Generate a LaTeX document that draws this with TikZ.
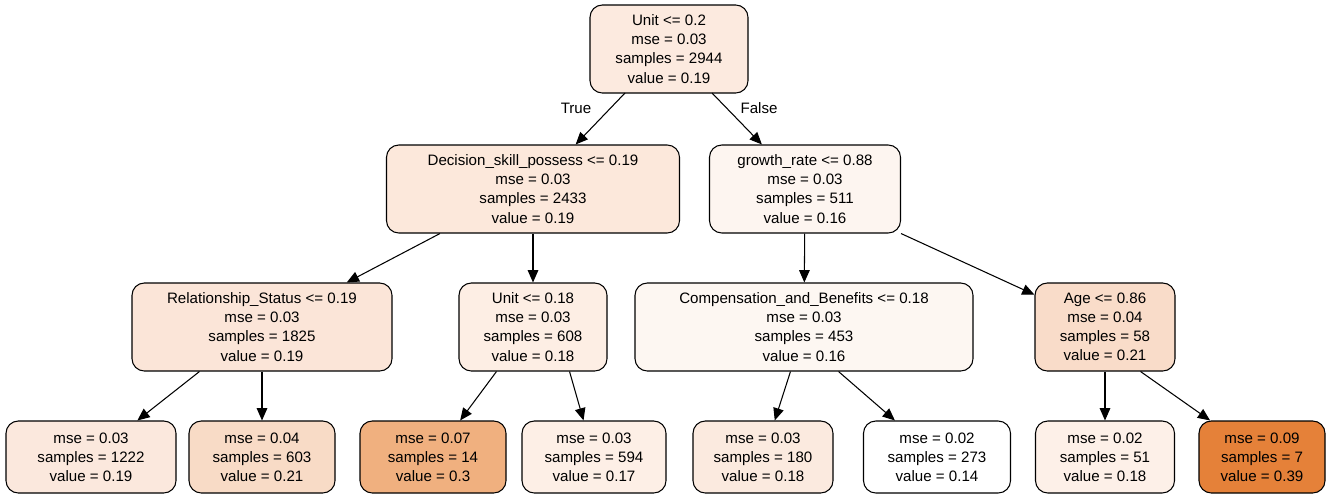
\documentclass[tikz,border=0pt]{standalone}
\usepackage{fontspec}
\setmainfont{Liberation Sans}
\usetikzlibrary{arrows.meta}
\begin{document}
\begin{tikzpicture}[x=0.02cm,y=-0.02cm,
  nd/.style={draw,rounded corners=7pt,align=center,inner sep=0pt,font=\fontsize{8.6}{10.9}\selectfont,line width=0.6pt},
  e/.style={-{Triangle[length=7pt,width=6pt]},line width=0.6pt},
  lb/.style={font=\fontsize{8.6}{10.9}\selectfont}]
\useasboundingbox (0,0) rectangle (1331,497);
\definecolor{c0}{HTML}{FCEADF}
\definecolor{c1}{HTML}{FCE8DB}
\definecolor{c2}{HTML}{FDF5F0}
\definecolor{c3}{HTML}{FBE5D8}
\definecolor{c4}{HTML}{FDEEE4}
\definecolor{c5}{HTML}{FDF7F2}
\definecolor{c6}{HTML}{F9DCC9}
\definecolor{l1}{HTML}{FBE8DD}
\definecolor{l2}{HTML}{F8DBC6}
\definecolor{l3}{HTML}{F0B07F}
\definecolor{l4}{HTML}{FDEFE6}
\definecolor{l5}{HTML}{FBEADF}
\definecolor{l6}{HTML}{FFFFFF}
\definecolor{l7}{HTML}{FDF0E8}
\definecolor{l8}{HTML}{E58139}
\node[nd,fill=c0,minimum width=158*0.02cm,minimum height=88*0.02cm] (r) at (669,49) {Unit <= 0.2\\mse = 0.03\\samples = 2944\\value = 0.19};
\node[nd,fill=c1,minimum width=293*0.02cm,minimum height=88*0.02cm] (d) at (533,189) {Decision\_skill\_possess <= 0.19\\mse = 0.03\\samples = 2433\\value = 0.19};
\node[nd,fill=c2,minimum width=191*0.02cm,minimum height=88*0.02cm] (g) at (805,189) {growth\_rate <= 0.88\\mse = 0.03\\samples = 511\\value = 0.16};
\node[nd,fill=c3,minimum width=260*0.02cm,minimum height=88*0.02cm] (rs) at (262,327) {Relationship\_Status <= 0.19\\mse = 0.03\\samples = 1825\\value = 0.19};
\node[nd,fill=c4,minimum width=148*0.02cm,minimum height=88*0.02cm] (u) at (533,327) {Unit <= 0.18\\mse = 0.03\\samples = 608\\value = 0.18};
\node[nd,fill=c5,minimum width=338*0.02cm,minimum height=88*0.02cm] (c) at (804,327) {Compensation\_and\_Benefits <= 0.18\\mse = 0.03\\samples = 453\\value = 0.16};
\node[nd,fill=c6,minimum width=140*0.02cm,minimum height=88*0.02cm] (a) at (1105,327) {Age <= 0.86\\mse = 0.04\\samples = 58\\value = 0.21};
\node[nd,fill=l1,minimum width=170*0.02cm,minimum height=72*0.02cm] (n1) at (91,457) {mse = 0.03\\samples = 1222\\value = 0.19};
\node[nd,fill=l2,minimum width=146*0.02cm,minimum height=72*0.02cm] (n2) at (262,457) {mse = 0.04\\samples = 603\\value = 0.21};
\node[nd,fill=l3,minimum width=146*0.02cm,minimum height=72*0.02cm] (n3) at (433,457) {mse = 0.07\\samples = 14\\value = 0.3};
\node[nd,fill=l4,minimum width=144*0.02cm,minimum height=72*0.02cm] (n4) at (594,457) {mse = 0.03\\samples = 594\\value = 0.17};
\node[nd,fill=l5,minimum width=140*0.02cm,minimum height=72*0.02cm] (n5) at (763,457) {mse = 0.03\\samples = 180\\value = 0.18};
\node[nd,fill=l6,minimum width=147*0.02cm,minimum height=72*0.02cm] (n6) at (937,457) {mse = 0.02\\samples = 273\\value = 0.14};
\node[nd,fill=l7,minimum width=139*0.02cm,minimum height=72*0.02cm] (n7) at (1105,457) {mse = 0.02\\samples = 51\\value = 0.18};
\node[nd,fill=l8,minimum width=126*0.02cm,minimum height=72*0.02cm] (n8) at (1262,457) {mse = 0.09\\samples = 7\\value = 0.39};
\coordinate (r1) at (625,93); \coordinate (r2) at (712,93);
\draw[e] (r1) -- (d);
\draw[e] (r2) -- (g);
\node[lb] (t) at (576,108) {True};
\node[lb] (f) at (759,108) {False};
\draw[e] (d.south west) ++(54,0) coordinate (d1) (d1) -- (rs);
\draw[e] (d) -- (u);
\draw[e] (g) -- (c);
\draw[e] (g.south east) coordinate (g1) (g1) -- (a);
\draw[e] (rs.south west) ++(68,0) coordinate (rs1) (rs1) -- (n1);
\draw[e] (rs) -- (n2);
\draw[e] (u.south west) ++(38,0) coordinate (u1) (u1) -- (n3);
\draw[e] (u.south east) ++(-38,0) coordinate (u2) (u2) -- (n4);
\draw[e] (c.south west) ++(156,0) coordinate (c1) (c1) -- (n5);
\draw[e] (c.south east) ++(-135,0) coordinate (c2) (c2) -- (n6);
\draw[e] (a) -- (n7);
\draw[e] (a.south east) ++(-35,0) coordinate (a1) (a1) -- (n8);
\end{tikzpicture}
\end{document}
